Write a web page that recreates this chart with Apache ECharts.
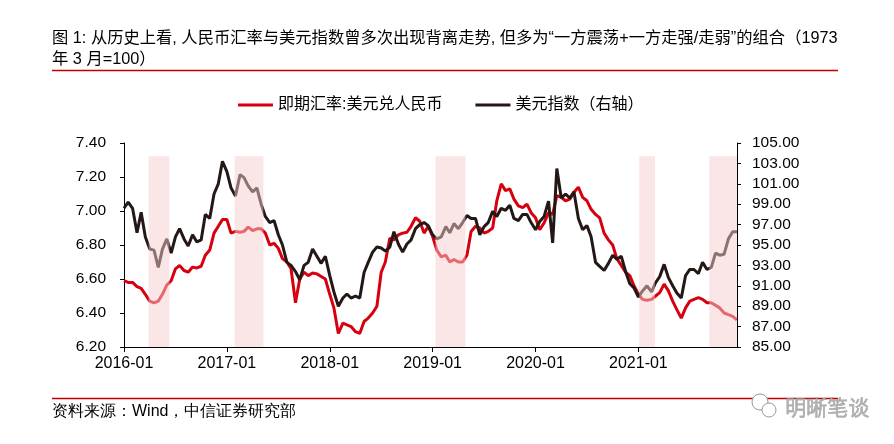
<!DOCTYPE html>
<html>
<head>
<meta charset="utf-8">
<script src="https://cdn.jsdelivr.net/npm/echarts@6/dist/echarts.min.js"></script>
<style>html,body{margin:0;padding:0;background:#fff}#c{width:894px;height:444px}</style>
</head>
<body>
<div id="c"></div>
<script>
// ---------- data ----------
const titleText = '图 1: 从历史上看, 人民币汇率与美元指数曾多次出现背离走势, 但多为“一方震荡+一方走强/走弱”的组合（1973\n年 3 月=100）';
const sourceText = '资料来源：Wind，中信证券研究部';
const watermarkText = '明晰笔谈';
const cnyName = '即期汇率:美元兑人民币';
const dxyName = '美元指数（右轴）';

// semi-monthly observation dates (1st and 16th of each month, 2016-01 .. 2021-12)
const dates = [];
for (let y = 2016; y <= 2021; y++) {
  for (let mo = 1; mo <= 12; mo++) {
    const mm = String(mo).padStart(2, '0');
    dates.push(y + '-' + mm + '-01', y + '-' + mm + '-16');
  }
}

// USD/CNY spot
const cny = [
  6.59, 6.58, 6.58, 6.555, 6.545, 6.51, 6.47, 6.46, 6.47, 6.51, 6.565, 6.59,
  6.66, 6.68, 6.65, 6.64, 6.67, 6.665, 6.675, 6.74, 6.77, 6.87, 6.91, 6.95,
  6.95, 6.87, 6.88, 6.875, 6.88, 6.905, 6.885, 6.895, 6.895, 6.87, 6.80, 6.81,
  6.78, 6.72, 6.70, 6.66, 6.46, 6.60, 6.64, 6.62, 6.635, 6.63, 6.615, 6.60,
  6.51, 6.43, 6.28, 6.34, 6.33, 6.32, 6.29, 6.28, 6.35, 6.37, 6.40, 6.44,
  6.64, 6.70, 6.84, 6.83, 6.86, 6.87, 6.875, 6.91, 6.96, 6.94, 6.87, 6.91,
  6.85, 6.77, 6.73, 6.74, 6.70, 6.715, 6.70, 6.70, 6.74, 6.88, 6.91, 6.90,
  6.87, 6.88, 6.90, 7.06, 7.16, 7.12, 7.13, 7.07, 7.03, 7.02, 7.04, 6.99,
  6.96, 6.89, 6.93, 6.99, 6.98, 7.09, 7.08, 7.06, 7.07, 7.11, 7.14, 7.08,
  7.06, 7.01, 6.98, 6.96, 6.87, 6.83, 6.80, 6.72, 6.68, 6.64, 6.62, 6.56,
  6.51, 6.48, 6.475, 6.48, 6.50, 6.52, 6.57, 6.53, 6.47, 6.42, 6.37, 6.43,
  6.47, 6.48, 6.49, 6.48, 6.46, 6.46, 6.445, 6.43, 6.40, 6.39, 6.38, 6.36
];

// US dollar index (right axis)
const dxy = [
  98.6, 99.2, 98.6, 96.2, 98.2, 95.8, 94.6, 94.5, 92.8, 94.6, 95.6, 94.2,
  95.8, 96.6, 95.6, 94.9, 96.0, 95.3, 95.5, 98.0, 97.6, 100.0, 101.0, 103.2,
  102.2, 100.6, 99.8, 101.9, 101.6, 100.8, 100.2, 100.6, 99.0, 97.8, 97.2, 97.4,
  96.0, 95.0, 93.3, 93.0, 92.4, 91.6, 93.0, 93.3, 94.6, 93.9, 93.2, 93.9,
  92.0, 90.4, 89.0, 89.8, 90.2, 89.8, 90.0, 89.8, 92.3, 93.3, 94.3, 94.8,
  94.7, 94.4, 94.8, 96.3, 95.1, 94.3, 95.1, 95.5, 96.6, 97.0, 97.2, 96.9,
  96.0, 95.6, 95.8, 96.8, 96.2, 97.1, 96.6, 97.2, 97.9, 97.6, 97.6, 96.0,
  96.8, 97.2, 98.3, 97.8, 98.6, 98.4, 98.9, 97.6, 97.4, 98.0, 98.0, 97.2,
  96.5, 97.3, 97.8, 99.3, 95.2, 102.5, 99.6, 100.0, 99.6, 100.2, 97.6, 96.5,
  96.9, 95.8, 93.3, 92.9, 92.5, 93.2, 94.0, 93.6, 93.9, 92.4, 91.2, 90.8,
  89.9, 90.5, 91.0, 90.4, 91.3, 91.9, 93.1, 91.8, 91.0, 90.3, 89.8, 92.0,
  92.6, 92.6, 92.2, 93.3, 92.6, 92.8, 94.2, 94.0, 94.1, 95.6, 96.3, 96.3
];

// divergence periods (shaded)
const shadedPeriods = [
  ['2016-03-28', '2016-06-10'],
  ['2017-01-29', '2017-05-09'],
  ['2019-01-11', '2019-04-26'],
  ['2021-01-04', '2021-02-27'],
  ['2021-09-09', '2021-12-16']
];

const xTickLabels = ['2016-01', '2017-01', '2018-01', '2019-01', '2020-01', '2021-01'];
const cnyTicks = [6.2, 6.4, 6.6, 6.8, 7.0, 7.2, 7.4];
const dxyTicks = [85, 87, 89, 91, 93, 95, 97, 99, 101, 103, 105];

// ---------- helpers ----------
function monthIndex(s) {
  const p = s.split('-').map(Number);
  const dim = new Date(p[0], p[1], 0).getDate();
  return (p[0] - 2016) * 12 + (p[1] - 1) + ((p[2] || 1) - 1) / dim;
}
const xs = dates.map(monthIndex);
const xTickPos = xTickLabels.map(l => monthIndex(l + '-01'));

const RED = '#D7000F';
const BLACK = '#231815';
const FONT = '"Liberation Sans", Arial, "Noto Sans CJK SC", sans-serif';

const chart = echarts.init(document.getElementById('c'), null, {renderer: 'canvas'});
chart.setOption({
  animation: false,
  backgroundColor: '#fff',
  textStyle: {fontFamily: FONT},
  title: {
    text: titleText,
    left: 52, top: 28, padding: 0,
    textStyle: {fontSize: 16.3, fontWeight: 'normal', color: '#000', lineHeight: 21, fontFamily: FONT}
  },
  legend: {
    left: 238, top: 97, padding: 0,
    icon: 'rect', itemWidth: 35, itemHeight: 3, itemGap: 33,
    textStyle: {fontSize: 16, color: '#000', fontFamily: FONT},
    data: [cnyName, dxyName]
  },
  grid: {left: 124, right: 157, top: 143, bottom: 97, containLabel: false},
  xAxis: {
    type: 'value', min: 0, max: 71.5,
    axisLine: {show: true, lineStyle: {color: '#000', width: 1}},
    axisTick: {show: true, length: 5, customValues: xTickPos, lineStyle: {color: '#000'}},
    axisLabel: {
      customValues: xTickPos, margin: 9, fontSize: 16, color: '#000', fontFamily: FONT,
      formatter: v => { const i = xTickPos.findIndex(p => Math.abs(p - v) < 1e-6); return i >= 0 ? xTickLabels[i] : ''; }
    },
    splitLine: {show: false}
  },
  yAxis: [
    {
      type: 'value', min: 6.2, max: 7.4, position: 'left',
      axisLine: {show: true, lineStyle: {color: '#000', width: 1}},
      axisTick: {show: true, length: 4, customValues: cnyTicks, lineStyle: {color: '#000'}},
      axisLabel: {customValues: cnyTicks, formatter: v => v.toFixed(2), margin: 18, fontSize: 15.5, color: '#000', fontFamily: FONT},
      splitLine: {show: false}
    },
    {
      type: 'value', min: 85, max: 105, position: 'right',
      axisLine: {show: true, lineStyle: {color: '#000', width: 1}},
      axisTick: {show: true, length: 4, customValues: dxyTicks, lineStyle: {color: '#000'}},
      axisLabel: {customValues: dxyTicks, formatter: v => v.toFixed(2), margin: 15, fontSize: 15.5, color: '#000', fontFamily: FONT},
      splitLine: {show: false}
    }
  ],
  series: [
    {
      name: cnyName, type: 'line', xAxisIndex: 0, yAxisIndex: 0,
      data: cny.map((v, i) => [xs[i], v]),
      showSymbol: false, symbol: 'none', z: 2,
      lineStyle: {color: RED, width: 3}, itemStyle: {color: RED}
    },
    {
      name: dxyName, type: 'line', xAxisIndex: 0, yAxisIndex: 1,
      data: dxy.map((v, i) => [xs[i], v]),
      showSymbol: false, symbol: 'none', z: 3,
      lineStyle: {color: BLACK, width: 3}, itemStyle: {color: BLACK}
    },
    {
      type: 'line', xAxisIndex: 0, yAxisIndex: 0, silent: true, z: 10,
      data: cny.map((v, i) => [xs[i], v]),
      showSymbol: false, symbol: 'none', lineStyle: {opacity: 0}, tooltip: {show: false},
      markArea: {
        silent: true, z: 10,
        itemStyle: {color: 'rgba(245,205,205,0.5)'},
        data: shadedPeriods.map(p => [{coord: [monthIndex(p[0]), 7.322]}, {coord: [monthIndex(p[1]), 6.2]}])
      }
    }
  ],
  graphic: [
    {type: 'line', shape: {x1: 52, y1: 70.5, x2: 838, y2: 70.5}, style: {stroke: '#C00000', lineWidth: 1.5}, z: 100},
    {type: 'line', shape: {x1: 52, y1: 398.5, x2: 838, y2: 398.5}, style: {stroke: '#C00000', lineWidth: 1.5}, z: 100},
    {type: 'text', left: 52, top: 404, style: {text: sourceText, fontSize: 16, fill: '#000', font: '16px ' + FONT}, z: 100},
    {type: 'circle', shape: {cx: 760, cy: 402, r: 8}, style: {fill: '#fff', stroke: '#9a9a9a', lineWidth: 1}, z: 101},
    {type: 'circle', shape: {cx: 769, cy: 410, r: 7}, style: {fill: '#fff', stroke: '#9a9a9a', lineWidth: 1}, z: 102},
    {type: 'text', left: 785, top: 396, style: {text: watermarkText, font: '21px "Noto Sans CJK SC", sans-serif', fill: '#b0b0b0', stroke: '#777', lineWidth: 0.4}, z: 103}
  ]
});
</script>
</body>
</html>
